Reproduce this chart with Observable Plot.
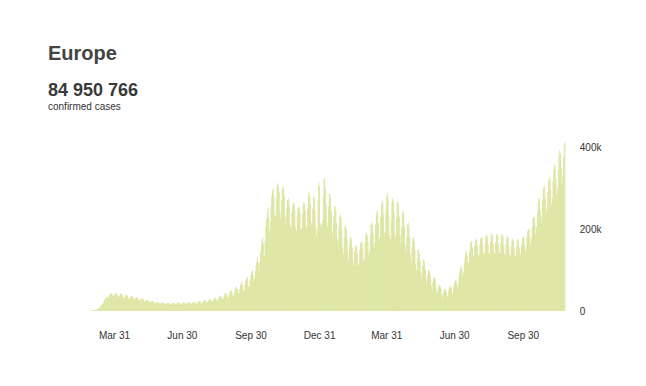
<!DOCTYPE html>
<html>
<head>
<meta charset="utf-8">
<script src="https://cdn.jsdelivr.net/npm/d3@7"></script>
<script src="https://cdn.jsdelivr.net/npm/@observablehq/plot@0.6"></script>
<style>
  html, body { margin: 0; padding: 0; background: #fff; }
  body { width: 646px; height: 386px; overflow: hidden; font-family: "Liberation Sans", Arial, sans-serif; }
  #head { position: relative; height: 120px; }
  #head div { position: absolute; left: 48px; line-height: 1; white-space: nowrap; }
  #title { top: 43px; font-size: 20px; font-weight: bold; color: #444; }
  #total { top: 81px; font-size: 18px; font-weight: bold; color: #3a3a3a; }
  #sub { top: 101.5px; font-size: 10px; color: #333; }
  #chart svg { display: block; }
</style>
</head>
<body>
<div id="head">
  <div id="title">Europe</div>
  <div id="total">84 950 766</div>
  <div id="sub">confirmed cases</div>
</div>
<div id="chart"></div>
<script>
// Daily confirmed cases (thousands), one row per week (Mon..Sun), starting Mon 2020-02-24
const dailyCases2020 = [
  0.1,0.2,0.3,0.4,0.5,0.6,0.8,
  1,1.5,2,2.5,3,3.5,4,
  5,6,8,10,13,15,17,
  20,23,27,30,33,35,33,
  33,38,40,42,44,41,37,
  38,40,43,44,42,39,35,
  33,38,42,43,41,38,33,
  32,35,38,40,39,36,30,
  30,33,36,37,35,33,28,
  28,31,33,34,32,30,26,
  26,28,30,31,30,28,24,
  23,25,27,28,27,25,22,
  21,23,24,25,24,22,19,
  19,20,22,22,21,20,18,
  18,19,20,21,20,19,17,
  17,18,19,20,20,18,16,
  17,18,20,20,19,18,16,
  17,19,20,21,20,18,16,
  17,19,20,21,20,19,17,
  18,19,21,22,21,19,17,
  18,20,21,22,22,20,17,
  19,21,23,24,23,21,18,
  20,23,26,27,26,23,20,
  22,25,28,29,28,25,21,
  24,28,31,33,32,28,24,
  27,32,36,38,37,33,28,
  30,36,41,44,43,38,32,
  33,40,46,49,50,44,37,
  38,46,54,58,60,53,43,
  44,54,63,68,71,62,50,
  52,64,74,80,84,73,60,
  60,76,88,95,100,88,72,
  78,97,112,122,130,117,98,
  120,145,160,172,180,165,135,
  170,205,225,240,250,230,195,
  215,255,280,295,300,280,235,
  230,275,300,312,308,290,240,
  225,270,295,305,300,280,230,
  210,250,270,275,272,255,210,
  200,240,258,265,262,245,205,
  195,230,250,255,252,238,200,
  200,238,258,265,262,245,205,
  205,250,280,290,285,260,215,
  210,250,280,275,245,205,185,
  200,270,315,305
];
// continues Fri 2021-01-01
const dailyCases2021 = [
  215,205,210,
  220,280,320,325,300,260,215,
  205,255,285,285,275,245,195,
  180,230,255,255,245,215,175,
  160,205,230,235,225,195,155,
  140,180,205,210,200,175,140,
  122,160,180,180,175,155,122,
  112,145,158,160,158,140,112,
  115,150,165,170,168,150,120,
  128,165,185,190,185,168,135,
  145,185,210,215,210,190,155,
  165,210,235,245,240,215,175,
  180,230,260,270,265,235,190,
  195,245,280,288,270,230,185,
  175,220,265,275,270,240,190,
  180,225,265,268,260,230,185,
  165,205,240,246,235,205,160,
  145,180,212,215,205,180,140,
  120,155,178,180,170,150,115,
  100,130,150,150,140,122,95,
  82,110,125,125,118,102,78,
  65,88,100,100,95,82,62,
  52,70,80,82,78,66,50,
  42,55,62,63,60,53,40,
  35,46,52,54,52,46,35,
  36,50,57,60,60,55,42,
  45,60,70,75,78,70,57,
  65,85,95,105,112,102,85,
  95,118,132,142,148,135,115,
  120,145,162,170,170,155,135,
  132,158,172,176,172,157,138,
  135,162,176,180,178,160,140,
  138,165,182,186,182,163,142,
  140,168,186,190,186,165,143,
  140,168,185,188,185,163,142,
  140,167,185,188,182,160,140,
  138,162,180,182,178,158,138,
  135,157,174,176,172,153,135,
  135,157,172,175,170,153,137,
  140,162,178,182,178,160,145,
  155,178,195,200,198,180,162,
  175,205,225,230,228,210,185,
  205,240,265,275,272,245,215,
  230,270,298,305,302,275,240,
  250,290,318,328,322,295,260,
  275,315,345,358,352,320,285,
  300,345,380,392,385,350,310,
  330,375,405,412
];
const seriesStart = "2020-02-24";
const xDomain = ["2020-01-22", "2021-11-26"];
const xTicks = ["2020-03-31", "2020-06-30", "2020-09-30", "2020-12-31", "2021-03-31", "2021-06-30", "2021-09-30"];
const yTicks = [0, 200000, 400000];

const DAY = 864e5;
const t0 = new Date(seriesStart + "T00:00:00Z").getTime();
const data = [...dailyCases2020, ...dailyCases2021].map((v, i) => ({
  date: new Date(t0 + i * DAY),
  next: new Date(t0 + (i + 1) * DAY),
  cases: v * 1000
}));
const toDate = s => new Date(s + "T00:00:00Z");

const chart = Plot.plot({
  width: 646,
  height: 266,
  marginLeft: 62.5,
  marginRight: 80.7,
  marginTop: 27,
  marginBottom: 75,
  style: { fontFamily: "'Liberation Sans', Arial, sans-serif", fontSize: "10px", color: "#333", background: "#fff", overflow: "visible" },
  x: {
    type: "utc",
    domain: xDomain.map(toDate),
    ticks: xTicks.map(toDate),
    tickFormat: d3.utcFormat("%b %-d"),
    tickSize: 0,
    tickPadding: 20,
    label: null
  },
  y: {
    domain: [0, 400000],
    axis: "right",
    ticks: yTicks,
    tickFormat: d => d === 0 ? "0" : d / 1000 + "k",
    tickSize: 0,
    tickPadding: 14,
    label: null
  },
  marks: [
    Plot.rectY(data, { x1: "date", x2: "next", y: "cases", fill: "#d6e08f", inset: 0 })
  ]
});
document.getElementById("chart").appendChild(chart);
</script>
</body>
</html>
